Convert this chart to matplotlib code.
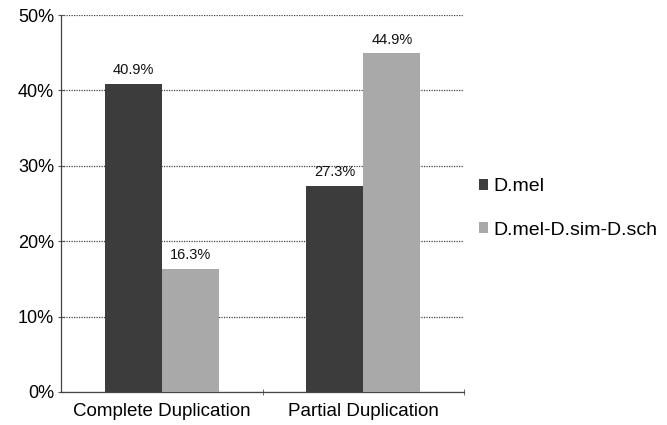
import numpy as np
import matplotlib.pyplot as plt
from matplotlib.ticker import PercentFormatter

plt.rcParams['font.family'] = ['Liberation Sans', 'DejaVu Sans']

categories = ['Complete Duplication', 'Partial Duplication']
series = ['D.mel', 'D.mel-D.sim-D.sch']
dmel = [40.9, 27.3]
dmel_sim_sch = [16.3, 44.9]
colors = ['#3c3c3c', '#a9a9a9']

fig = plt.figure(figsize=(6.67, 4.25), dpi=100)
ax = fig.add_axes([61 / 667, 1 - 392 / 425, 403 / 667, 377 / 425])

x = np.arange(len(categories))
w = 0.283
b1 = ax.bar(x - w / 2, dmel, w, color=colors[0], label=series[0], zorder=3)
b2 = ax.bar(x + w / 2, dmel_sim_sch, w, color=colors[1], label=series[1], zorder=3)

for bars, vals in [(b1, dmel), (b2, dmel_sim_sch)]:
    for r, v in zip(bars, vals):
        ax.text(r.get_x() + r.get_width() / 2, v + 0.9, f'{v:.1f}%',
                ha='center', va='bottom', fontsize=10.5, color='#111111')

ax.set_xlim(-0.5, 1.5)
ax.set_ylim(0, 50)
ax.set_yticks(range(0, 51, 10))
ax.yaxis.set_major_formatter(PercentFormatter(decimals=0))
ax.set_xticks(x)
ax.set_xticklabels(categories, fontsize=13.5)
ax.set_xticks([0.5, 1.5], minor=True)
ax.tick_params(axis='x', which='major', length=0, pad=8)
ax.tick_params(axis='x', which='minor', length=4, direction='inout', color='#555555')
ax.tick_params(axis='y', length=4, direction='inout', labelsize=13, color='#555555', pad=3)

ax.grid(axis='y', linestyle=(0, (1, 1)), color='#444444', linewidth=0.9, zorder=0)
for s in ['top', 'right']:
    ax.spines[s].set_visible(False)
for s in ['left', 'bottom']:
    ax.spines[s].set_linestyle((0, (1, 1)))
    ax.spines[s].set_color('#444444')
    ax.spines[s].set_linewidth(0.9)

ax.legend(loc='center left', bbox_to_anchor=(0.995, 0.487), frameon=False,
          fontsize=14, handlelength=0.45, handleheight=0.45, handletextpad=0.25,
          labelspacing=1.35)

fig.savefig('out.png', dpi=100)
